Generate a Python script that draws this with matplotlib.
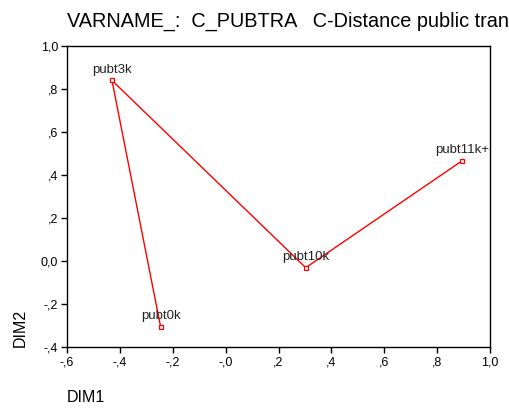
import matplotlib
matplotlib.use("Agg")
import matplotlib.pyplot as plt

plt.rcParams['font.family'] = ['Liberation Sans', 'DejaVu Sans']

labels = ["pubt0k", "pubt3k", "pubt10k", "pubt11k+"]
dim1 = [-0.246, -0.430, 0.303, 0.893]
dim2 = [-0.306, 0.840, -0.031, 0.465]

xticks = [-0.6, -0.4, -0.2, 0.0, 0.2, 0.4, 0.6, 0.8, 1.0]
xticklabels = ["-,6", "-,4", "-,2", "-,0", ",2", ",4", ",6", ",8", "1,0"]
yticks = [-0.4, -0.2, 0.0, 0.2, 0.4, 0.6, 0.8, 1.0]
yticklabels = ["-,4", "-,2", "0,0", ",2", ",4", ",6", ",8", "1,0"]

title = "VARNAME_:  C_PUBTRA   C-Distance public tran"

fig = plt.figure(figsize=(5.10, 4.09), dpi=100)
ax = fig.add_axes([0.1314, 0.1516, 0.8294, 0.7359])

ax.plot(dim1, dim2, color='red', lw=1.0, marker='s', markersize=3.5,
        markerfacecolor='white', markeredgecolor='red', markeredgewidth=0.9)
for lab, x, y in zip(labels, dim1, dim2):
    ax.annotate(lab, (x, y), xytext=(0, 3.5), textcoords='offset points',
                ha='center', va='bottom', fontsize=9.5, color='#222222')

ax.set_xlim(-0.6, 1.0)
ax.set_ylim(-0.4, 1.0)
ax.set_xticks(xticks)
ax.set_xticklabels(xticklabels)
ax.set_yticks(yticks)
ax.set_yticklabels(yticklabels)
ax.tick_params(direction='out', length=4, width=1, labelsize=9, colors='black', pad=2.5)
for s in ax.spines.values():
    s.set_linewidth(1.0)
    s.set_color('black')

fig.text(67/510, 1 - 398/409, "DIM1", fontsize=11.5, ha='left', va='center')
fig.text(20/510, 1 - 328/409, "DIM2", fontsize=11.5, rotation=90, ha='center', va='center')
fig.text(67/510, 1 - 21/409, title, fontsize=14.3, ha='left', va='center')

fig.savefig("out.png", dpi=100)
